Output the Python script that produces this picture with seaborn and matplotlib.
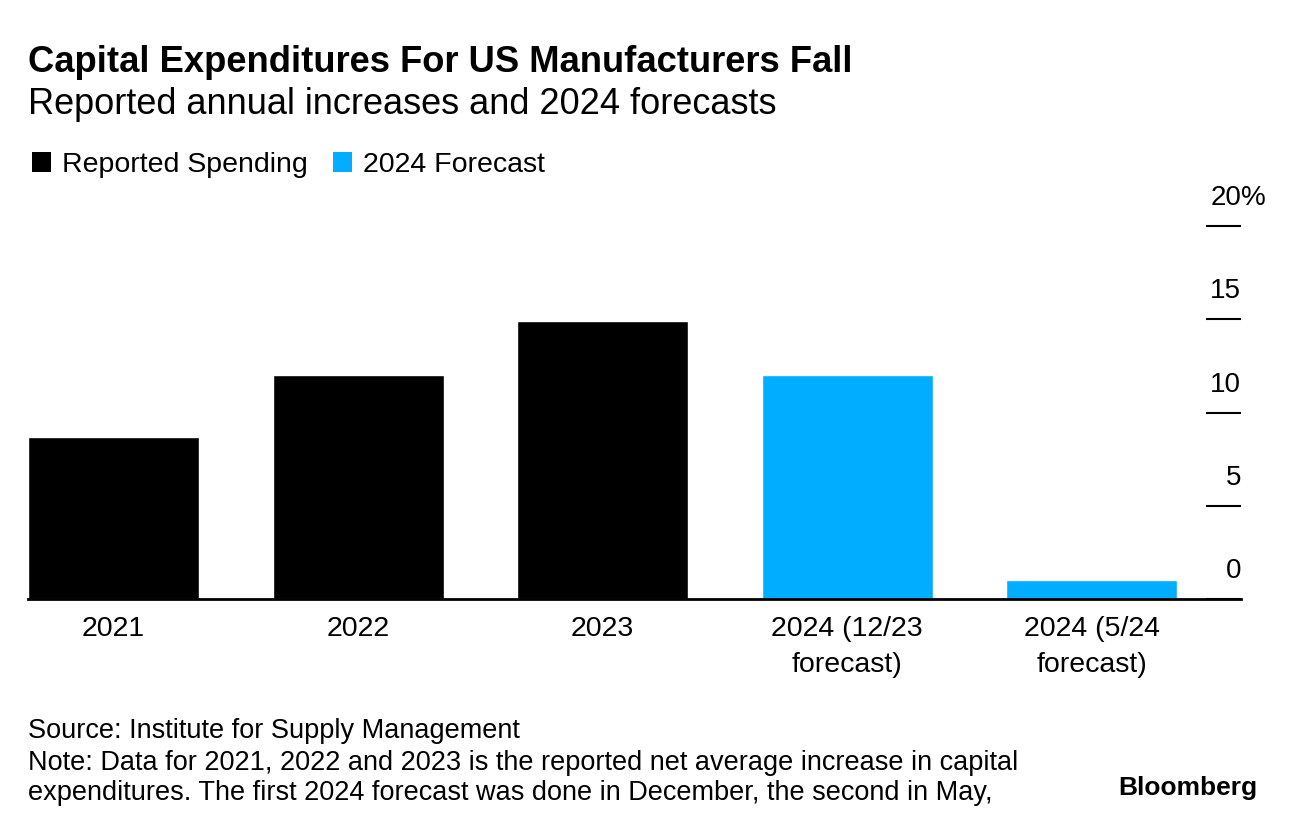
import numpy as np
import pandas as pd
import seaborn as sns
import matplotlib.pyplot as plt
import matplotlib.transforms as mtransforms
from matplotlib.patches import Patch

# chart data
categories = ["2021", "2022", "2023", "2024 (12/23\nforecast)", "2024 (5/24\nforecast)"]
values = [8.7, 12.0, 14.9, 12.0, 1.0]
series = ["Reported Spending", "Reported Spending", "Reported Spending", "2024 Forecast", "2024 Forecast"]
y_ticks = [0, 5, 10, 15, 20]

colors = {"Reported Spending": "#000000", "2024 Forecast": "#00adff"}

df = pd.DataFrame({"label": categories, "value": values, "series": series})

sns.set_style("white")
plt.rcParams["font.family"] = ["Liberation Sans", "DejaVu Sans"]
plt.rcParams["text.color"] = "black"
plt.rcParams["xtick.color"] = "black"
plt.rcParams["ytick.color"] = "black"

fig = plt.figure(figsize=(12.96, 8.32), dpi=100)
ax = fig.add_axes([28 / 1296, 1 - 599 / 832, 1213 / 1296, 373 / 832])

sns.barplot(data=df, x="label", y="value", hue="series", palette=colors,
            dodge=False, width=0.7, legend=False, ax=ax, saturation=1)

ax.set_xlim(-0.35, 4.61)
ax.set_ylim(0, 20)
ax.set_xlabel("")
ax.set_ylabel("")

for s in ["top", "left", "right"]:
    ax.spines[s].set_visible(False)
ax.spines["bottom"].set_color("black")
ax.spines["bottom"].set_linewidth(2)

ax.tick_params(axis="x", length=0, pad=12, labelsize=20.5, labelcolor="black")
for t in ax.get_xticklabels():
    t.set_linespacing(1.5)

ax.yaxis.tick_right()
ax.set_yticks(y_ticks)
ax.tick_params(axis="y", direction="in", length=25, width=1.5, color="black",
               labelright=False, labelleft=False)

trans = mtransforms.blended_transform_factory(ax.transAxes, ax.transData)
trans = mtransforms.offset_copy(trans, fig=fig, x=0, y=28, units="dots")
for v in y_ticks:
    ax.text(1.0, v, str(v), transform=trans, ha="right", va="center", fontsize=20)
ax.text(1.0, y_ticks[-1], "%", transform=trans, ha="left", va="center", fontsize=20)

# titles
fig.text(28 / 1296, 1 - 62 / 832, "Capital Expenditures For US Manufacturers Fall",
         fontsize=26.2, fontweight="bold", ha="left", va="center")
fig.text(28 / 1296, 1 - 105 / 832, "Reported annual increases and 2024 forecasts",
         fontsize=26, ha="left", va="center")

handles = [Patch(facecolor=c, edgecolor="none", label=k) for k, c in colors.items()]
fig.legend(handles=handles, loc="center left", bbox_to_anchor=(32 / 1296, 1 - 165 / 832),
           ncol=2, frameon=False, fontsize=20.5, handlelength=0.65, handleheight=0.65,
           handletextpad=0.4, columnspacing=0.9, borderaxespad=0, borderpad=0)

# footer
fig.text(28 / 1296, 1 - 731 / 832, "Source: Institute for Supply Management",
         fontsize=19.5, ha="left", va="center")
fig.text(28 / 1296, 1 - 763 / 832,
         "Note: Data for 2021, 2022 and 2023 is the reported net average increase in capital",
         fontsize=19.5, ha="left", va="center")
fig.text(28 / 1296, 1 - 793 / 832,
         "expenditures. The first 2024 forecast was done in December, the second in May,",
         fontsize=19.5, ha="left", va="center")
fig.text(1257 / 1296, 1 - 788 / 832, "Bloomberg", fontsize=19, fontweight="bold",
         ha="right", va="center")

fig.savefig("out.png", dpi=100, facecolor="white")
